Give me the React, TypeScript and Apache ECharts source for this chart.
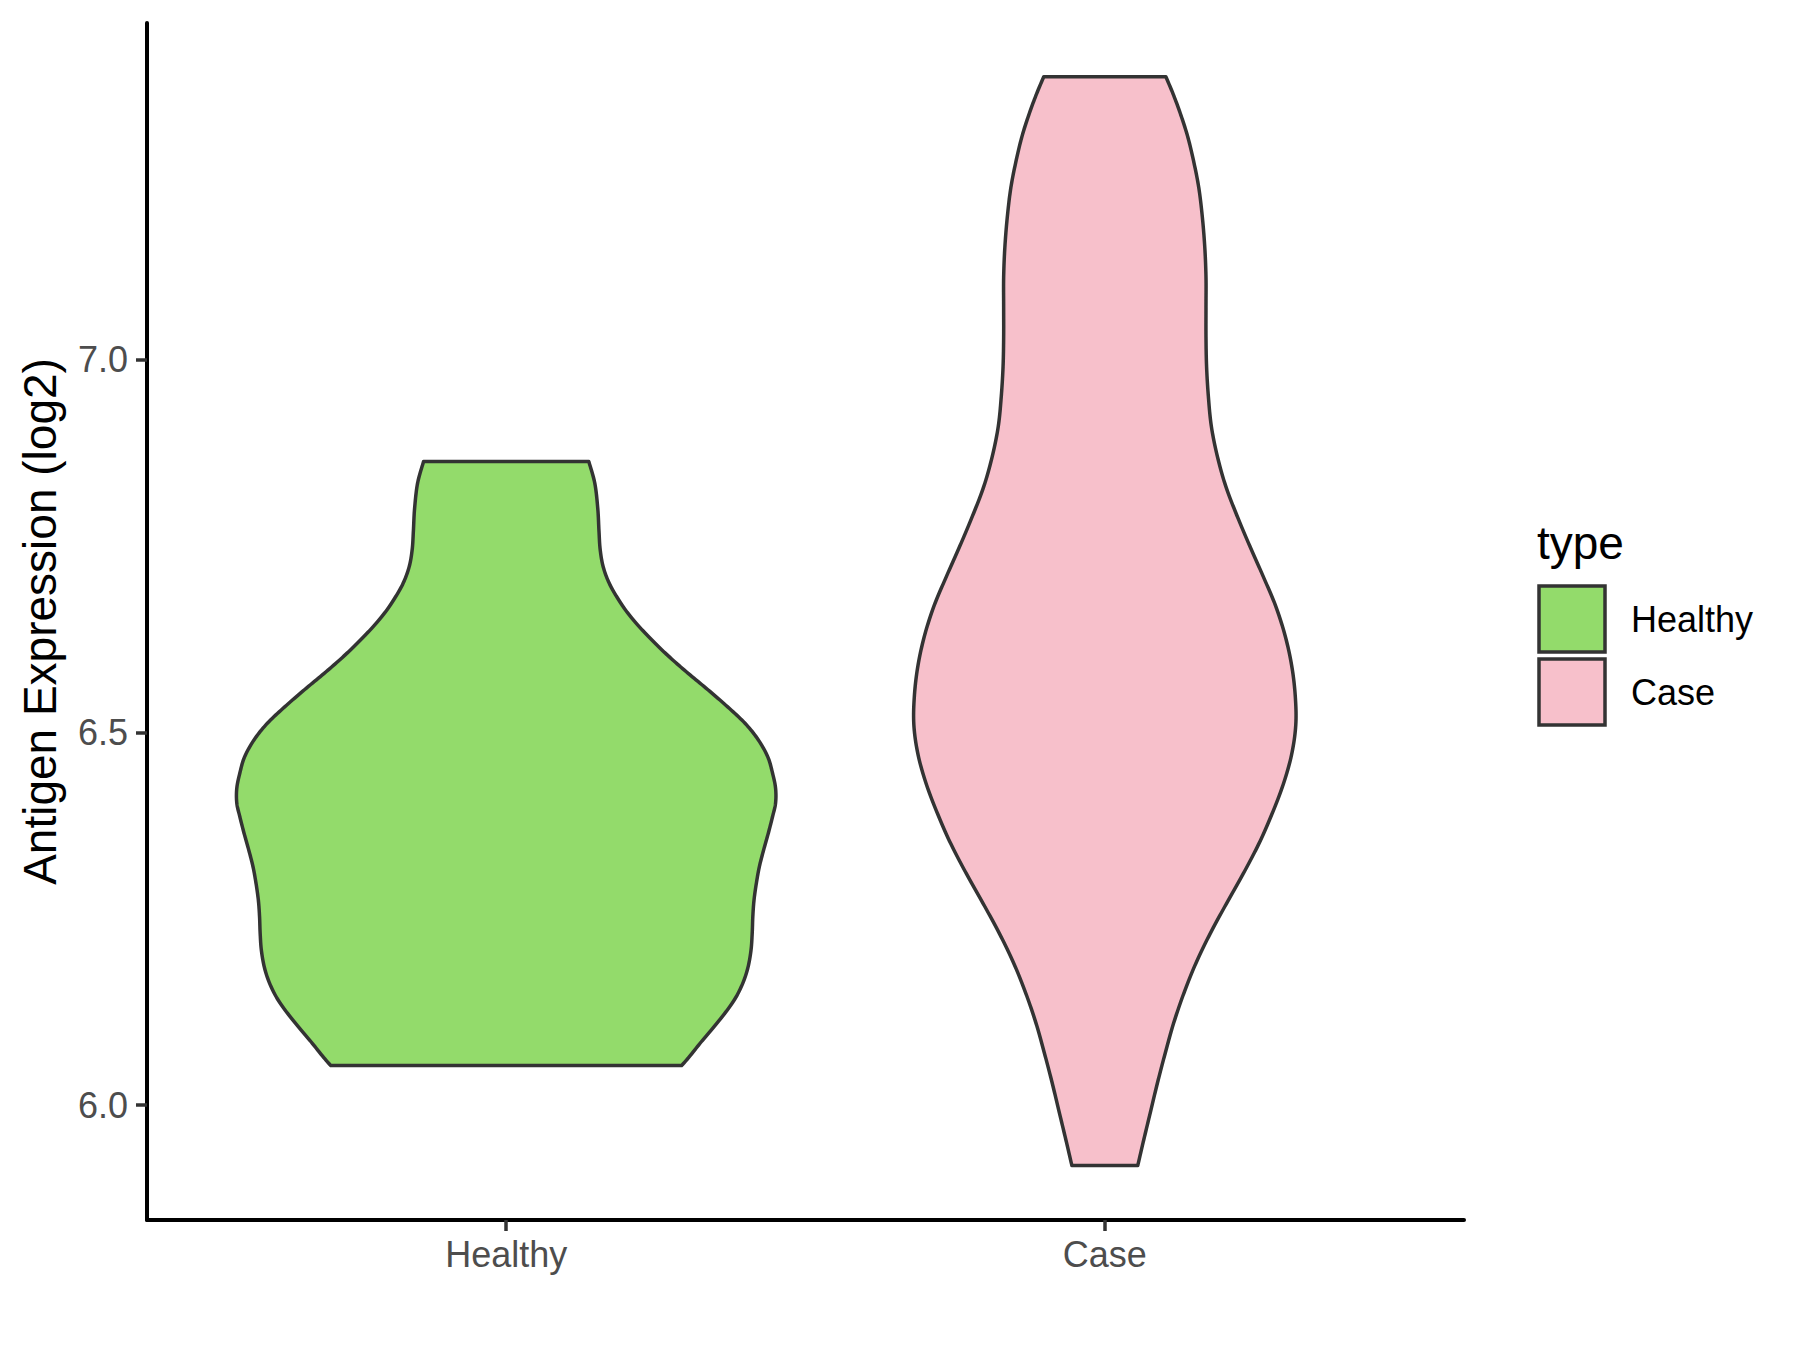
import React, { useEffect, useRef } from "react";
import * as echarts from "echarts";

const categories = ["Healthy", "Case"];
const yTicks = [6.0, 6.5, 7.0];
const fillColors = ["#93DB6B", "#F7C0CB"];

const healthyY = [6.863, 6.834, 6.8, 6.77, 6.745, 6.722, 6.7, 6.68, 6.66, 6.64, 6.62, 6.6, 6.579, 6.557, 6.534, 6.512, 6.49, 6.467, 6.445, 6.425, 6.405, 6.387, 6.365, 6.342, 6.32, 6.298, 6.275, 6.253, 6.231, 6.208, 6.185, 6.165, 6.145, 6.125, 6.105, 6.085, 6.065, 6.053];
const healthyHalfWidth = [0.138, 0.148, 0.153, 0.155, 0.157, 0.162, 0.172, 0.186, 0.203, 0.224, 0.248, 0.274, 0.304, 0.337, 0.37, 0.399, 0.421, 0.437, 0.445, 0.45, 0.45, 0.445, 0.438, 0.43, 0.423, 0.418, 0.414, 0.412, 0.411, 0.409, 0.404, 0.396, 0.384, 0.367, 0.347, 0.326, 0.306, 0.293];

const caseY = [7.379, 7.356, 7.33, 7.3, 7.267, 7.23, 7.19, 7.15, 7.11, 7.07, 7.03, 6.99, 6.95, 6.91, 6.87, 6.83, 6.79, 6.75, 6.71, 6.67, 6.63, 6.59, 6.55, 6.51, 6.47, 6.43, 6.39, 6.35, 6.31, 6.27, 6.23, 6.19, 6.15, 6.11, 6.07, 6.03, 5.99, 5.95, 5.919];
const caseHalfWidth = [0.102, 0.114, 0.126, 0.138, 0.148, 0.157, 0.163, 0.167, 0.169, 0.169, 0.169, 0.17, 0.173, 0.178, 0.188, 0.202, 0.221, 0.242, 0.264, 0.285, 0.301, 0.312, 0.318, 0.319, 0.312, 0.298, 0.279, 0.257, 0.231, 0.203, 0.176, 0.152, 0.132, 0.115, 0.101, 0.088, 0.076, 0.064, 0.055];

const violins = [
  { name: categories[0], x: 1, ys: healthyY, hw: healthyHalfWidth, color: fillColors[0] },
  { name: categories[1], x: 2, ys: caseY, hw: caseHalfWidth, color: fillColors[1] },
];

const FONT = '"Liberation Sans", Arial, Helvetica, sans-serif';

function catmull(points: number[][], steps = 10): number[][] {
  const out: number[][] = [];
  const n = points.length;
  for (let i = 0; i < n - 1; i++) {
    const p0 = points[Math.max(0, i - 1)];
    const p1 = points[i];
    const p2 = points[i + 1];
    const p3 = points[Math.min(n - 1, i + 2)];
    for (let s = 0; s < steps; s++) {
      const t = s / steps;
      const t2 = t * t;
      const t3 = t2 * t;
      const f = (a: number, b: number, c: number, d: number) =>
        0.5 * (2 * b + (-a + c) * t + (2 * a - 5 * b + 4 * c - d) * t2 + (-a + 3 * b - 3 * c + d) * t3);
      out.push([f(p0[0], p1[0], p2[0], p3[0]), f(p0[1], p1[1], p2[1], p3[1])]);
    }
  }
  out.push(points[n - 1]);
  return out;
}

export default function App() {
  const ref = useRef<HTMLDivElement>(null);
  useEffect(() => {
    if (!ref.current) return;
    const chart = echarts.init(ref.current, undefined, { renderer: "svg" });
    const series: any[] = violins.map((v) => ({
      type: "custom",
      name: v.name,
      data: [[v.x, v.ys[0]]],
      clip: false,
      renderItem: (params: any, api: any) => {
        const left = v.ys.map((y, i) => api.coord([v.x - v.hw[i], y]));
        const right = v.ys.map((y, i) => api.coord([v.x + v.hw[i], y])).reverse();
        const pts = catmull(left).concat(catmull(right));
        return {
          type: "polygon",
          shape: { points: pts },
          style: { fill: v.color, stroke: "#333333", lineWidth: 3.5, lineJoin: "round" },
        };
      },
    }));
    const legendTop = 586;
    const keySize = 69;
    const graphic: any[] = [
      {
        type: "text",
        left: 1537,
        top: 520,
        style: { text: "type", font: `46px ${FONT}`, fill: "#000000" },
      },
    ];
    violins.forEach((v, i) => {
      graphic.push({
        type: "rect",
        shape: { x: 1539, y: legendTop + i * (keySize + 4), width: keySize - 3, height: keySize - 3 },
        style: { fill: v.color, stroke: "#333333", lineWidth: 3.5 },
      });
      graphic.push({
        type: "text",
        x: 1631,
        y: legendTop + i * (keySize + 4) + keySize / 2 - 1,
        style: { text: v.name, font: `36px ${FONT}`, fill: "#000000", verticalAlign: "middle" },
      });
    });
    chart.setOption({
      animation: false,
      backgroundColor: "#ffffff",
      grid: { left: 147, right: 336, top: 23, bottom: 130, containLabel: false },
      xAxis: {
        type: "value",
        min: 0.4,
        max: 2.6,
        splitLine: { show: false },
        axisLine: { show: true, onZero: false, lineStyle: { color: "#000000", width: 4 } },
        axisTick: { show: true, customValues: [1, 2], length: 11, lineStyle: { color: "#333333", width: 3.5 } },
        axisLabel: {
          customValues: [1, 2],
          formatter: (val: number) => categories[Math.round(val) - 1] ?? "",
          color: "#4D4D4D",
          fontSize: 36,
          fontFamily: FONT,
          margin: 16,
        },
      },
      yAxis: {
        type: "value",
        min: 5.846,
        max: 7.451,
        name: "Antigen Expression (log2)",
        nameLocation: "middle",
        nameRotate: 90,
        nameGap: 84,
        nameTextStyle: { color: "#000000", fontSize: 46, fontFamily: FONT },
        splitLine: { show: false },
        axisLine: { show: true, onZero: false, lineStyle: { color: "#000000", width: 4 } },
        axisTick: { show: true, customValues: yTicks, length: 11, lineStyle: { color: "#333333", width: 3.5 } },
        axisLabel: {
          customValues: yTicks,
          formatter: (val: number) => val.toFixed(1),
          color: "#4D4D4D",
          fontSize: 36,
          fontFamily: FONT,
          margin: 19,
        },
      },
      series,
      graphic,
    });
    return () => chart.dispose();
  }, []);
  return (
    <div
      ref={ref}
      style={{ position: "absolute", left: 0, top: 0, width: 1800, height: 1350, background: "#fff" }}
    />
  );
}
